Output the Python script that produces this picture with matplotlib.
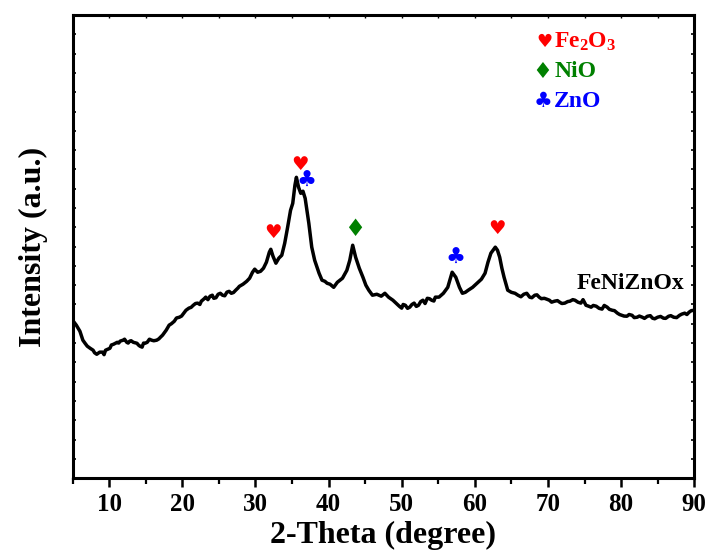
import matplotlib
matplotlib.use("Agg")
import matplotlib.pyplot as plt
from matplotlib.ticker import MultipleLocator

# ---------------- data ----------------
two_theta = [
    5.0, 5.5, 6.0, 6.4, 6.7, 7.0, 7.4, 7.8, 8.0, 8.3, 8.7, 9.1, 9.3, 9.5, 10.1,
    10.3, 10.6, 11.1, 11.3, 11.5, 11.9, 12.1, 12.4, 12.6, 12.8, 13.0, 13.3, 13.8,
    14.0, 14.2, 14.5, 14.7, 14.9, 15.2, 15.5, 15.8, 16.1, 16.5, 16.8, 17.0, 17.3,
    17.8, 18.2, 18.5, 18.9, 19.2, 19.6, 19.9, 20.2, 20.5, 20.9, 21.2, 21.5, 21.8,
    22.1, 22.4, 22.6, 23.0, 23.2, 23.5, 23.8, 24.1, 24.3, 24.6, 24.9, 25.2, 25.5,
    25.8, 26.1, 26.4, 26.7, 27.0, 27.3, 27.6, 27.8, 28.3, 28.8, 29.2, 29.6, 29.9,
    30.3, 30.7, 31.1, 31.5, 31.9, 32.1, 32.4, 32.8, 33.2, 33.6, 34.0, 34.4, 34.8,
    35.1, 35.4, 35.6, 35.9, 36.2, 36.5, 36.8, 37.3, 37.7, 38.1, 38.7, 39.1, 39.5,
    39.8, 40.2, 40.7, 41.2, 41.9, 42.5, 42.9, 43.3, 43.7, 44.2, 44.7, 45.1, 45.5,
    46.0, 46.6, 47.2, 47.7, 48.2, 48.8, 49.4, 49.7, 50.0, 50.2, 50.5, 50.8, 51.1,
    51.4, 51.7, 52.0, 52.3, 52.6, 52.9, 53.2, 53.5, 53.8, 54.1, 54.4, 54.6, 55.1,
    55.7, 56.3, 56.9, 57.4, 57.9, 58.3, 58.7, 59.1, 59.7, 60.3, 60.9, 61.4, 61.8,
    62.2, 62.8, 63.1, 63.4, 63.7, 64.0, 64.5, 65.0, 65.5, 65.9, 66.3, 66.7, 67.1,
    67.5, 67.8, 68.2, 68.5, 68.8, 69.1, 69.5, 69.8, 70.2, 70.5, 70.9, 71.3, 71.6,
    71.9, 72.3, 72.7, 73.0, 73.4, 73.7, 74.1, 74.5, 74.8, 75.2, 75.5, 75.9, 76.2,
    76.6, 77.0, 77.4, 77.7, 78.1, 78.4, 78.8, 79.1, 79.5, 79.8, 80.1, 80.4, 80.8,
    81.1, 81.5, 81.8, 82.2, 82.5, 82.9, 83.2, 83.6, 84.0, 84.3, 84.6, 85.0, 85.4,
    85.8, 86.1, 86.5, 86.8, 87.2, 87.6, 88.0, 88.3, 88.7, 89.0, 89.3, 89.6, 90.0,
]
intensity = [
    818, 793, 761, 715, 699, 684, 673, 663, 650, 642, 653, 653, 640, 663, 673,
    690, 694, 704, 700, 710, 715, 720, 704, 700, 710, 712, 704, 699,
    690, 684, 679, 700, 699, 704, 720, 715, 712, 715, 722, 730, 741,
    767, 793, 800, 813, 830, 834, 840, 855, 870, 881, 885, 896, 905,
    907, 900, 917, 930, 938, 925, 943, 948, 932, 935, 953, 958, 948,
    945, 964, 968, 958, 962, 974, 985, 994, 1005, 1020, 1036, 1067, 1083,
    1067, 1072, 1088, 1119, 1171, 1186, 1150, 1114, 1140, 1155, 1217, 1300, 1388,
    1424, 1518, 1559, 1507, 1476, 1487, 1450, 1321, 1197, 1129, 1062, 1026, 1020,
    1010, 1005, 989, 1015, 1036, 1077, 1129, 1207, 1145, 1088, 1041, 1000, 974,
    948, 953, 943, 958, 938, 922, 901, 890, 881, 900, 896, 880, 886,
    900, 907, 890, 896, 915, 922, 905, 932, 930, 922, 918, 938, 938,
    958, 989, 1067, 1041, 989, 958, 963, 974, 989, 1010, 1031, 1062, 1119,
    1166, 1197, 1181, 1145, 1088, 1041, 974, 963, 958, 948, 940, 953, 958,
    938, 935, 948, 950, 938, 930, 932, 928, 922, 912, 917, 920, 912,
    905, 907, 915, 917, 925, 922, 912, 907, 925, 896, 892, 886, 895,
    891, 880, 876, 895, 886, 875, 870, 868, 855, 848, 844, 840, 839,
    848, 844, 832, 834, 840, 834, 828, 839, 842, 829, 826, 834, 838,
    829, 828, 839, 842, 834, 832, 844, 850, 855, 848, 860, 868, 870,
]

# peak markers (phase, 2-theta, intensity level of the symbol)
peak_phase = ["Fe2O3", "Fe2O3", "ZnO", "NiO", "ZnO", "Fe2O3"]
peak_x = [32.4, 36.1, 37.0, 43.5, 57.3, 63.0]
peak_y = [1274, 1626, 1538, 1290, 1140, 1295]

phases = ["Fe2O3", "NiO", "ZnO"]
phase_labels = [r"Fe$_2$O$_3$", "NiO", "ZnO"]
phase_symbols = ["\u2665", "\u2666", "\u2663"]
phase_colors = ["#ff0000", "#008000", "#0000ff"]
symbol_sizes = [14, 17, 16]

sample_label = "FeNiZnOx"
xticks = [10, 20, 30, 40, 50, 60, 70, 80, 90]

# ---------------- style ----------------
plt.rcParams["font.family"] = ["Liberation Serif", "DejaVu Serif"]
plt.rcParams["font.weight"] = "bold"
plt.rcParams["mathtext.fontset"] = "custom"
plt.rcParams["mathtext.rm"] = "Liberation Serif:bold"
plt.rcParams["mathtext.bf"] = "Liberation Serif:bold"
plt.rcParams["mathtext.it"] = "Liberation Serif:bold:italic"
plt.rcParams["mathtext.default"] = "rm"

fig = plt.figure(figsize=(7.12, 5.56), dpi=100)
ax = fig.add_axes([0.102, 0.140, 0.873, 0.833])

ax.plot(two_theta, intensity, color="black", lw=2.5, solid_joinstyle="round")

ax.set_xlim(5, 90)
ax.set_ylim(0, 2400)
ax.set_xticks(xticks)
ax.xaxis.set_minor_locator(MultipleLocator(5))
ax.yaxis.set_major_locator(MultipleLocator(100))
ax.set_yticklabels([])

for sp in ax.spines.values():
    sp.set_linewidth(2.2)

ax.tick_params(axis="x", which="major", direction="out", length=6.5, width=1.8,
               labelsize=18, pad=4)
ax.tick_params(axis="x", which="minor", direction="out", length=4, width=1.6)
ax.tick_params(axis="y", which="major", direction="in", length=2, width=1.2,
               left=True, right=True)
for lab in ax.get_xticklabels():
    lab.set_fontweight("bold")

sec = ax.secondary_xaxis("top")
sec.set_xticks(xticks)
sec.xaxis.set_minor_locator(MultipleLocator(5))
sec.tick_params(axis="x", which="both", direction="in", length=2, width=1.0,
                labeltop=False)

ax.set_xlabel("2-Theta (degree)", fontsize=23, fontweight="bold", labelpad=4)
ax.set_ylabel("Intensity (a.u.)", fontsize=23, fontweight="bold", labelpad=14)

# peak symbols
for ph, px, py in zip(peak_phase, peak_x, peak_y):
    i = phases.index(ph)
    ax.text(px, py, phase_symbols[i], color=phase_colors[i],
            fontsize=symbol_sizes[i], ha="center", va="center",
            family=["DejaVu Sans"])

# phase legend
leg_y = [0.942, 0.877, 0.814]
for sym, lab, col, sz, yy in zip(phase_symbols, phase_labels, phase_colors,
                                 symbol_sizes, leg_y):
    ax.text(0.772, yy, sym, color=col, fontsize=sz - 1, ha="right",
            va="center", transform=ax.transAxes, family=["DejaVu Sans"])
    ax.text(0.775, yy, lab, color=col, fontsize=17, fontweight="bold",
            ha="left", va="center", transform=ax.transAxes)

ax.text(0.811, 0.421, sample_label, fontsize=17, fontweight="bold",
        ha="left", va="center", transform=ax.transAxes)

fig.savefig("out.png", dpi=100)
